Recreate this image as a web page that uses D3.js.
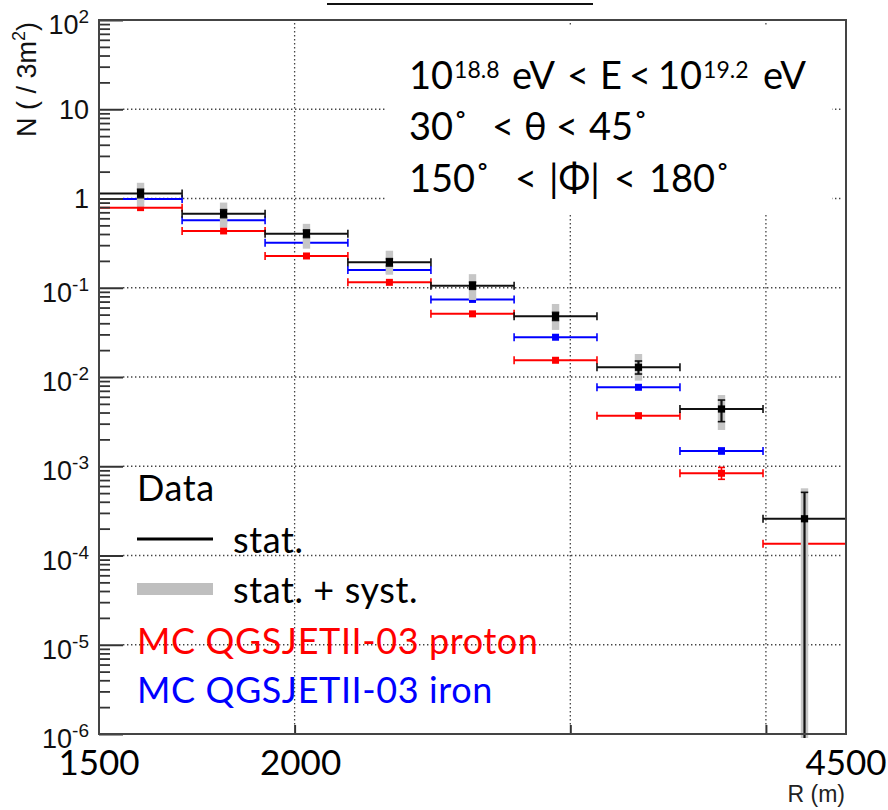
<!DOCTYPE html>
<html><head><meta charset="utf-8">
<script src="https://cdn.jsdelivr.net/npm/d3@7"></script>
<style>body{margin:0;background:#fff} svg{display:block} text{white-space:pre}</style>
</head><body><svg id="c" width="888" height="810"></svg>
<script>
// ---- data ----
const binEdges   = [1500, 1695, 1915, 2163, 2444, 2762, 3120, 3525, 3983, 4500];
const dataVal    = [1.14, 0.676, 0.404, 0.193, 0.1055, 0.0478, 0.01285, 0.00438, 0.000258];
const dataStatLo = [1.02, 0.61, 0.365, 0.175, 0.096, 0.043, 0.0108, 0.00316, 1e-7];
const dataStatHi = [1.27, 0.75, 0.445, 0.212, 0.116, 0.053, 0.0151, 0.00552, 0.00051];
const dataSysLo  = [0.81, 0.475, 0.274, 0.14, 0.073, 0.0337, 0.0091, 0.00255, 1e-7];
const dataSysHi  = [1.50, 0.90, 0.52, 0.26, 0.142, 0.0658, 0.0181, 0.00628, 0.000566];
const ironVal    = [0.99, 0.57, 0.32, 0.158, 0.074, 0.0279, 0.00767, 0.00148, null];
const ironErrLo  = [null, null, null, null, null, null, null, 0.00138, null];
const ironErrHi  = [null, null, null, null, null, null, null, 0.00160, null];
const protonVal  = [0.79, 0.433, 0.227, 0.115, 0.051, 0.0154, 0.00368, 0.000834, 0.000135];
const protonErrLo= [null, null, null, null, null, null, 0.00350, 0.000714, null];
const protonErrHi= [null, null, null, null, null, null, 0.00390, 0.00097, null];
const yMajorTicks = [1e2, 1e1, 1, 1e-1, 1e-2, 1e-3, 1e-4, 1e-5, 1e-6];
const yTickBase   = ["10", "10", "1", "10", "10", "10", "10", "10", "10"];
const yTickExp    = ["2", "", "", "-1", "-2", "-3", "-4", "-5", "-6"];
const xGridTicks  = [2000, 3000, 4000];
const xLabelVals  = [1500, 2000, 4500];
const xLabelText  = ["1500", "2000", "4500"];
const legendItems = ["Data", "stat.", "stat. + syst.", "MC QGSJETII-03 proton", "MC QGSJETII-03 iron"];

// ---- layout ----
const L = 99, R = 846, T = 20, B = 734;
const svg = d3.select("#c");
const x = d3.scaleLog().domain([1500, 4500]).range([L, R]);
const y = d3.scaleLog().domain([1e-6, 1e2]).range([B, T]);
const ARIAL = "'Liberation Sans', Arial, Helvetica, sans-serif";
const CAL = "Lato, 'Open Sans', sans-serif";

// title underline (cut-off title in reference)
svg.append("line").attr("x1", 327).attr("x2", 593).attr("y1", 4).attr("y2", 4)
  .attr("stroke", "#111").attr("stroke-width", 2);

// gridlines
const grid = svg.append("g").attr("stroke", "#444").attr("stroke-width", 1.3).attr("stroke-dasharray", "1.4 2.6");
grid.selectAll(".hg").data(yMajorTicks.slice(1, -1)).join("line")
  .attr("x1", L + 24).attr("x2", R - 3).attr("y1", d => y(d)).attr("y2", d => y(d));
grid.selectAll(".vg").data(xGridTicks).join("line")
  .attr("x1", d => x(d)).attr("x2", d => x(d)).attr("y1", T + 3).attr("y2", B - 9);

// white box behind annotation
svg.append("rect").attr("x", 386).attr("y", 25).attr("width", 446).attr("height", 190).attr("fill", "#fff");

// clip
svg.append("clipPath").attr("id", "clp").append("rect").attr("x", L).attr("y", T).attr("width", R - L).attr("height", B - T + 4);
const plot = svg.append("g").attr("clip-path", "url(#clp)");

const bins = d3.range(dataVal.length).map(i => ({
  i, lo: binEdges[i], hi: binEdges[i + 1], cx: (x(binEdges[i]) + x(binEdges[i + 1])) / 2
}));

function drawMC(vals, eLo, eHi, color) {
  const g = plot.append("g").attr("stroke", color).attr("fill", color);
  const b = bins.filter(d => vals[d.i] != null);
  g.selectAll(".h").data(b).join("line")
    .attr("x1", d => x(d.lo)).attr("x2", d => x(d.hi))
    .attr("y1", d => y(vals[d.i])).attr("y2", d => y(vals[d.i])).attr("stroke-width", 2);
  g.selectAll(".c1").data(b).join("line")
    .attr("x1", d => x(d.lo)).attr("x2", d => x(d.lo))
    .attr("y1", d => y(vals[d.i]) - 4).attr("y2", d => y(vals[d.i]) + 4).attr("stroke-width", 1.6);
  g.selectAll(".c2").data(b).join("line")
    .attr("x1", d => x(d.hi)).attr("x2", d => x(d.hi))
    .attr("y1", d => y(vals[d.i]) - 4).attr("y2", d => y(vals[d.i]) + 4).attr("stroke-width", 1.6);
  const be = b.filter(d => eLo[d.i] != null);
  g.selectAll(".v").data(be).join("line")
    .attr("x1", d => d.cx).attr("x2", d => d.cx)
    .attr("y1", d => y(eLo[d.i])).attr("y2", d => y(eHi[d.i])).attr("stroke-width", 1.6);
  g.selectAll(".vc1").data(be).join("line")
    .attr("x1", d => d.cx - 3.5).attr("x2", d => d.cx + 3.5)
    .attr("y1", d => y(eLo[d.i])).attr("y2", d => y(eLo[d.i])).attr("stroke-width", 1.6);
  g.selectAll(".vc2").data(be).join("line")
    .attr("x1", d => d.cx - 3.5).attr("x2", d => d.cx + 3.5)
    .attr("y1", d => y(eHi[d.i])).attr("y2", d => y(eHi[d.i])).attr("stroke-width", 1.6);
  g.selectAll("rect").data(b).join("rect")
    .attr("x", d => d.cx - 3.5).attr("y", d => y(vals[d.i]) - 3.5)
    .attr("width", 7).attr("height", 7).attr("stroke", "none");
}
drawMC(protonVal, protonErrLo, protonErrHi, "#ff0000");
drawMC(ironVal, ironErrLo, ironErrHi, "#0000ff");

// syst bands
plot.append("g").selectAll("rect").data(bins).join("rect")
  .attr("x", d => d.cx - 3.7).attr("width", 7.4)
  .attr("y", d => y(dataSysHi[d.i])).attr("height", d => y(dataSysLo[d.i]) - y(dataSysHi[d.i]))
  .attr("fill", "#c6c6c6");

// data
const gd = plot.append("g").attr("stroke", "#111").attr("fill", "#000");
gd.selectAll(".h").data(bins).join("line")
  .attr("x1", d => x(d.lo)).attr("x2", d => x(d.hi))
  .attr("y1", d => y(dataVal[d.i])).attr("y2", d => y(dataVal[d.i])).attr("stroke-width", 2);
gd.selectAll(".c1").data(bins).join("line")
  .attr("x1", d => x(d.lo)).attr("x2", d => x(d.lo))
  .attr("y1", d => y(dataVal[d.i]) - 4).attr("y2", d => y(dataVal[d.i]) + 4).attr("stroke-width", 1.6);
gd.selectAll(".c2").data(bins).join("line")
  .attr("x1", d => x(d.hi)).attr("x2", d => x(d.hi))
  .attr("y1", d => y(dataVal[d.i]) - 4).attr("y2", d => y(dataVal[d.i]) + 4).attr("stroke-width", 1.6);
gd.selectAll(".v").data(bins).join("line")
  .attr("x1", d => d.cx).attr("x2", d => d.cx)
  .attr("y1", d => y(dataStatLo[d.i])).attr("y2", d => y(dataStatHi[d.i])).attr("stroke-width", 2.2);
gd.selectAll(".vc1").data(bins).join("line")
  .attr("x1", d => d.cx - 3.7).attr("x2", d => d.cx + 3.7)
  .attr("y1", d => y(dataStatLo[d.i])).attr("y2", d => y(dataStatLo[d.i])).attr("stroke-width", 1.6);
gd.selectAll(".vc2").data(bins).join("line")
  .attr("x1", d => d.cx - 3.7).attr("x2", d => d.cx + 3.7)
  .attr("y1", d => y(dataStatHi[d.i])).attr("y2", d => y(dataStatHi[d.i])).attr("stroke-width", 1.6);
gd.selectAll("rect").data(bins).join("rect")
  .attr("x", d => d.cx - 3.6).attr("y", d => y(dataVal[d.i]) - 3.6)
  .attr("width", 7.2).attr("height", 7.2).attr("stroke", "none");

// axes ticks (inward, ROOT style)
const minors = [];
for (let e = -6; e < 2; e++) for (let m = 2; m <= 9; m++) minors.push(m * Math.pow(10, e));
const ax1 = svg.append("g").attr("transform", `translate(${L},0)`)
  .call(d3.axisRight(y).tickValues(yMajorTicks).tickSize(24).tickFormat(""));
const ax2 = svg.append("g").attr("transform", `translate(${L},0)`)
  .call(d3.axisRight(y).tickValues(minors).tickSize(11).tickFormat(""));
const ax3 = svg.append("g").attr("transform", `translate(0,${B})`)
  .call(d3.axisTop(x).tickValues(xGridTicks).tickSize(9).tickFormat(""));
[ax1, ax2, ax3].forEach(a => { a.select(".domain").remove(); a.selectAll("line").attr("stroke", "#333").attr("stroke-width", 2); });
ax2.selectAll("line").attr("stroke-width", 1.8);

// frame
svg.append("rect").attr("x", L).attr("y", T).attr("width", R - L).attr("height", B - T)
  .attr("fill", "none").attr("stroke", "#444").attr("stroke-width", 2);

// y tick labels
const yl = svg.append("g").attr("font-family", ARIAL).attr("fill", "#111").attr("text-anchor", "end");
yMajorTicks.forEach((v, i) => {
  const t = yl.append("text").attr("x", 89).attr("y", y(v) + (yTickExp[i] ? 14 : 9.5)).attr("font-size", 27);
  t.append("tspan").text(yTickBase[i]);
  if (yTickExp[i]) t.append("tspan").attr("font-size", 19).attr("dy", -11).text(yTickExp[i]);
});

// y title
const yt = svg.append("text").attr("transform", "rotate(-90)").attr("x", -22).attr("y", 36)
  .attr("text-anchor", "end").attr("font-family", ARIAL).attr("font-size", 27).attr("fill", "#111");
yt.append("tspan").text("N ( / 3m");
yt.append("tspan").attr("font-size", 18).attr("dy", -11).text("2");
yt.append("tspan").attr("dy", 11).text(")");

// x labels
svg.append("g").selectAll("text").data(xLabelVals).join("text")
  .attr("x", (d, i) => x(d) + (i === 1 ? 6 : 0)).attr("y", 775).attr("text-anchor", "middle")
  .attr("font-family", CAL).attr("font-size", 35).attr("fill", "#000")
  .text((d, i) => xLabelText[i]);
svg.append("text").attr("x", 845).attr("y", 802).attr("text-anchor", "end")
  .attr("font-family", ARIAL).attr("font-size", 23).attr("fill", "#222").text("R (m)");

// annotation (token positions follow the reference layout)
const an = svg.append("g").attr("font-family", CAL).attr("font-size", 38).attr("fill", "#000");
const a1 = an.append("text").attr("y", 89);
[["10", 409, 0], ["18.8", null, 1], ["eV", 512, 0], ["<", 567, 0], ["E", 600, 0], ["<", 629, 0],
 ["10", 658, 0], ["19.2", null, 1], ["eV", 763, 0]].forEach(([s, px, sup]) => {
  const ts = a1.append("tspan").attr("y", sup ? 78 : 89).attr("font-size", sup ? 23 : 38).text(s);
  if (px !== null) ts.attr("x", px); else ts.attr("dx", 1);
});
const a2 = an.append("text").attr("y", 140);
[["30\u02DA", 409], ["<", 492], ["\u03B8", 524], ["<", 556], ["45\u02DA", 589]].forEach(([s, px]) => {
  a2.append("tspan").attr("x", px).text(s);
});
const a3 = an.append("text").attr("y", 192);
[["150\u02DA", 409], ["<", 515], ["|\u03A6|", 549], ["<", 614], ["180\u02DA", 649]].forEach(([s, px]) => {
  a3.append("tspan").attr("x", px).text(s);
});

// legend
const lg = svg.append("g").attr("font-family", CAL).attr("font-size", 36).attr("letter-spacing", 0.6);
lg.append("text").attr("x", 137).attr("y", 501).attr("fill", "#000").text(legendItems[0]);
lg.append("line").attr("x1", 137).attr("x2", 213).attr("y1", 539).attr("y2", 539).attr("stroke", "#000").attr("stroke-width", 3);
lg.append("text").attr("x", 233).attr("y", 553).attr("fill", "#000").text(legendItems[1]);
lg.append("rect").attr("x", 137).attr("y", 583).attr("width", 76).attr("height", 12).attr("fill", "#bfbfbf");
lg.append("text").attr("x", 233).attr("y", 603).attr("fill", "#000").text(legendItems[2]);
lg.append("text").attr("x", 137).attr("y", 654).attr("fill", "#ff0000").text(legendItems[3]);
lg.append("text").attr("x", 137).attr("y", 703).attr("fill", "#0000ff").text(legendItems[4]);
</script></body></html>
